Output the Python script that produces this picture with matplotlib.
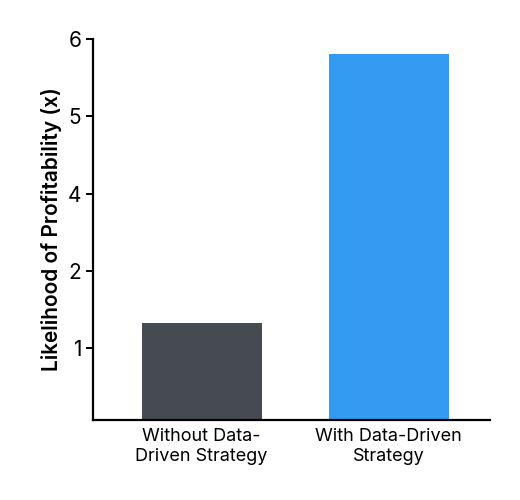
import matplotlib
matplotlib.use("Agg")
import matplotlib.pyplot as plt

categories = ["Without Data-\nDriven Strategy", "With Data-Driven\nStrategy"]
# bar heights in axis position units (the printed tick labels skip "3")
values = [1.33, 4.8]
tick_positions = [1, 2, 3, 4, 5]
tick_labels = ["1", "2", "4", "5", "6"]
colors = ["#454b51", "#339cf2"]

plt.rcParams["font.family"] = ["Inter", "DejaVu Sans"]

fig = plt.figure(figsize=(5.2, 5.0), dpi=100)
ax = fig.add_axes([0.179, 0.16, 0.763, 0.762])
ax.bar(range(len(values)), values, width=0.64, color=colors)
ax.set_xlim(-0.58, 1.54)
ax.set_ylim(0.07, 5)
ax.set_yticks(tick_positions)
ax.set_yticklabels(tick_labels, fontsize=15)
ax.set_xticks(range(len(categories)))
ax.set_xticklabels(categories, fontsize=13)
ax.set_ylabel("Likelihood of Profitability (x)", fontsize=15, fontweight="semibold")
ax.spines["top"].set_visible(False)
ax.spines["right"].set_visible(False)
for s in ("left", "bottom"):
    ax.spines[s].set_linewidth(1.6)
ax.tick_params(axis="y", length=5, width=1.4)
ax.tick_params(axis="x", length=0, pad=6)
fig.savefig("out.png")
